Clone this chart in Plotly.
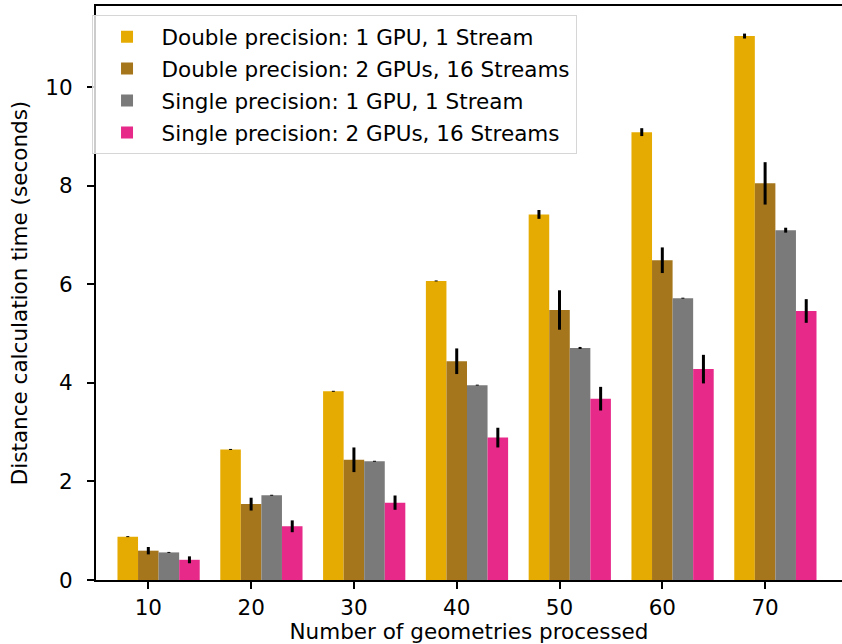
import plotly.graph_objects as go

categories = [10, 20, 30, 40, 50, 60, 70]
series_names = [
    "Double precision: 1 GPU, 1 Stream",
    "Double precision: 2 GPUs, 16 Streams",
    "Single precision: 1 GPU, 1 Stream",
    "Single precision: 2 GPUs, 16 Streams",
]
dp_1gpu = [0.88, 2.65, 3.83, 6.07, 7.42, 9.09, 11.04]
dp_1gpu_err = [0.01, 0.01, 0.01, 0.01, 0.09, 0.08, 0.05]
dp_2gpu = [0.595, 1.54, 2.44, 4.44, 5.48, 6.49, 8.05]
dp_2gpu_err = [0.075, 0.13, 0.25, 0.26, 0.40, 0.26, 0.43]
sp_1gpu = [0.56, 1.72, 2.41, 3.955, 4.71, 5.72, 7.10]
sp_1gpu_err = [0.01, 0.01, 0.01, 0.01, 0.02, 0.01, 0.05]
sp_2gpu = [0.41, 1.09, 1.57, 2.89, 3.68, 4.28, 5.46]
sp_2gpu_err = [0.07, 0.12, 0.145, 0.20, 0.24, 0.29, 0.24]

values = [dp_1gpu, dp_2gpu, sp_1gpu, sp_2gpu]
errors = [dp_1gpu_err, dp_2gpu_err, sp_1gpu_err, sp_2gpu_err]
colors = ["#E6AB02", "#A6761D", "#7A7A7A", "#E7298A"]
offsets = [-3, -1, 1, 3]
bar_width = 2

FONT = "DejaVu Sans"
FS = 21.5

fig = go.Figure()
for i in range(4):
    fig.add_trace(go.Bar(
        x=categories, y=values[i], name=series_names[i],
        width=bar_width, offset=offsets[i],
        marker=dict(color=colors[i], line=dict(width=0)),
        error_y=dict(type="data", array=errors[i], color="black",
                     thickness=3, width=0),
        legendgroup=f"g{i}",
    ))

fig.update_layout(
    width=842, height=644,
    margin=dict(l=96, r=0, t=6, b=64, autoexpand=False),
    plot_bgcolor="white", paper_bgcolor="white",
    barmode="overlay",
    font=dict(family=FONT, size=FS, color="black"),
    showlegend=True,
    legend=dict(
        x=-0.006, y=0.984, xanchor="left", yanchor="top",
        bgcolor="rgba(255,255,255,0.8)", bordercolor="#D6D6D6", borderwidth=1,
        font=dict(family=FONT, size=FS, color="black"),
        tracegroupgap=1, itemwidth=59,
    ),
    xaxis=dict(
        range=[4.91, 77.48], tickmode="array", tickvals=categories,
        ticktext=[str(c) for c in categories], automargin=False,
        showgrid=False, zeroline=False, showline=True, linecolor="black",
        linewidth=2, mirror=True, ticks="outside", ticklen=7, tickwidth=2,
        tickcolor="black",
        title=dict(text="Number of geometries processed", standoff=0,
                   font=dict(family=FONT, size=FS)),
    ),
    yaxis=dict(
        range=[0, 11.65], tickmode="array", tickvals=[0, 2, 4, 6, 8, 10],
        automargin=False, ticklabelstandoff=10,
        showgrid=False, zeroline=False, showline=True, linecolor="black",
        linewidth=2, ticks="outside", ticklen=7, tickwidth=2, tickcolor="black",
        title=dict(text="Distance calculation time (seconds)", standoff=12,
                   font=dict(family=FONT, size=FS)),
    ),
)

fig.write_html("out.html", config={"displayModeBar": False},
               post_script="document.body.style.margin='0';")
